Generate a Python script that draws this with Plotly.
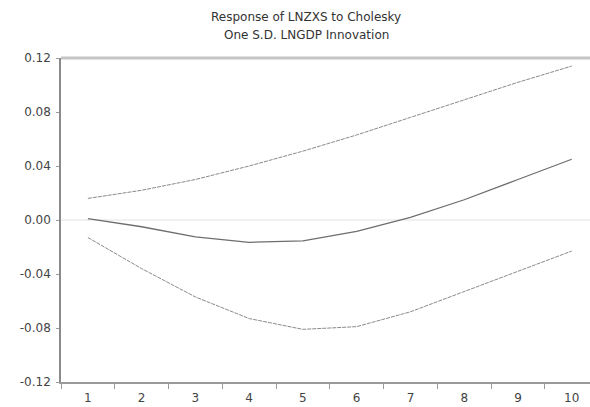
import plotly.graph_objects as go

periods = [1, 2, 3, 4, 5, 6, 7, 8, 9, 10]
response = [0.001, -0.005, -0.0125, -0.0165, -0.0155, -0.0085, 0.002, 0.015, 0.030, 0.045]
upper = [0.016, 0.022, 0.030, 0.040, 0.051, 0.063, 0.076, 0.089, 0.102, 0.114]
lower = [-0.013, -0.036, -0.057, -0.073, -0.081, -0.079, -0.068, -0.053, -0.038, -0.023]
y_ticks = [0.12, 0.08, 0.04, 0.00, -0.04, -0.08, -0.12]
y_tick_labels = ["0.12", "0.08", "0.04", "0.00", "-0.04", "-0.08", "-0.12"]
title_lines = ["Response of LNZXS to Cholesky", "One S.D. LNGDP Innovation"]

font_family = "DejaVu Sans, Arial, sans-serif"

fig = go.Figure()
fig.add_trace(go.Scatter(x=periods, y=upper, mode="lines",
                         line=dict(color="#8a8a8a", width=1, dash="4px,1px"),
                         showlegend=False))
fig.add_trace(go.Scatter(x=periods, y=lower, mode="lines",
                         line=dict(color="#8a8a8a", width=1, dash="4px,1px"),
                         showlegend=False))
fig.add_trace(go.Scatter(x=periods, y=response, mode="lines",
                         line=dict(color="#6e6e6e", width=1.3),
                         showlegend=False))

title_x = (306 - 61) / 529
fig.update_layout(
    width=590, height=407,
    margin=dict(l=61, r=0, t=58, b=25),
    paper_bgcolor="white", plot_bgcolor="white",
    font=dict(family=font_family, size=12, color="#444"),
    annotations=[
        dict(text=title_lines[0], xref="paper", yref="paper", x=title_x, y=1.0,
             yshift=58 - 17, xanchor="center", yanchor="middle", showarrow=False,
             font=dict(size=12, color="#333", family=font_family)),
        dict(text=title_lines[1], xref="paper", yref="paper", x=title_x, y=1.0,
             yshift=58 - 35, xanchor="center", yanchor="middle", showarrow=False,
             font=dict(size=12, color="#333", family=font_family)),
    ],
    shapes=[
        dict(type="line", xref="paper", yref="paper", x0=0, x1=1, y0=1, y1=1,
             line=dict(color="#c4c4c4", width=3)),
        dict(type="line", xref="paper", yref="y", x0=0, x1=1, y0=0, y1=0,
             line=dict(color="#e2e2e2", width=1), layer="below"),
    ],
)
fig.update_xaxes(range=[0.5, 10.34], tickvals=periods, ticks="",
                 showgrid=False, zeroline=False, showline=True,
                 linecolor="#9a9a9a", linewidth=1.5, ticklabelstandoff=4,
                 tickfont=dict(size=12, color="#444"),
                 minor=dict(tick0=0.5, dtick=1, ticks="outside", ticklen=5,
                            tickcolor="#9a9a9a", showgrid=False))
fig.update_yaxes(range=[-0.12, 0.12], tickvals=y_ticks, ticktext=y_tick_labels,
                 ticks="outside", ticklen=3, tickcolor="#9a9a9a",
                 showgrid=False, zeroline=False, showline=True,
                 linecolor="#8a8a8a", linewidth=1.5, ticklabelstandoff=3,
                 tickfont=dict(size=12, color="#444"))

fig.write_html("out.html", config={"displayModeBar": False},
               post_script="document.body.style.margin='0';")
